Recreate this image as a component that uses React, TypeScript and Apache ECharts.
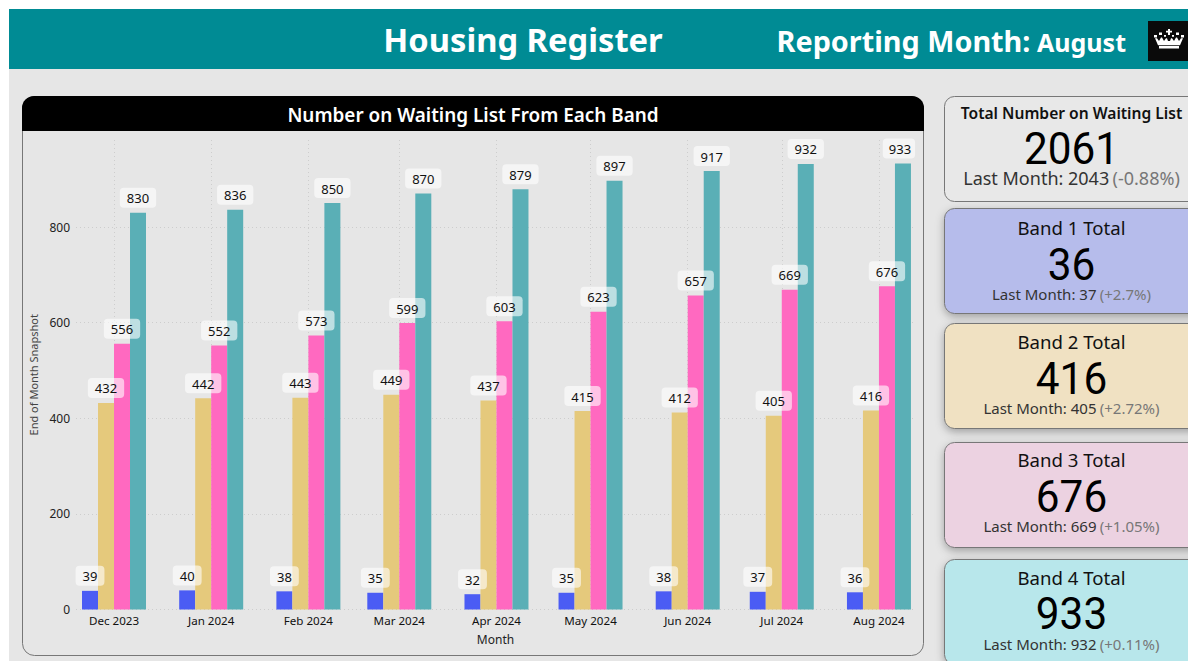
import React, { useEffect, useRef } from "react";
import * as echarts from "echarts";

const months = ["2023-12-01", "2024-01-01", "2024-02-01", "2024-03-01", "2024-04-01", "2024-05-01", "2024-06-01", "2024-07-01", "2024-08-01"];
const band1 = [39, 40, 38, 35, 32, 35, 38, 37, 36];
const band2 = [432, 442, 443, 449, 437, 415, 412, 405, 416];
const band3 = [556, 552, 573, 599, 603, 623, 657, 669, 676];
const band4 = [830, 836, 850, 870, 879, 897, 917, 932, 933];
const bandNames = ["Band 1", "Band 2", "Band 3", "Band 4"];
const bandColors = ["#4B5CF4", "#E5C97C", "#FF69C0", "#5AAFB6"];

const cardTitles = ["Total Number on Waiting List", "Band 1 Total", "Band 2 Total", "Band 3 Total", "Band 4 Total"];
const cardTotals = ["2061", "36", "416", "676", "933"];
const cardLast = ["Last Month: 2043", "Last Month: 37", "Last Month: 405", "Last Month: 669", "Last Month: 932"];
const cardChange = ["(-0.88%)", "(+2.7%)", "(+2.72%)", "(+1.05%)", "(+0.11%)"];
const cardFills = ["#E8E8E8", "#B6BCEB", "#F0E1C2", "#ECD2E1", "#B8E7EB"];
const cardTops = [96, 208, 323, 442, 559];
const titleYs = [112.5, 227, 341, 459, 577];
const numberYs = [149, 265, 379, 497, 614];
const lastYs = [178, 294, 408, 526, 644];

const monthNames = ["Jan", "Feb", "Mar", "Apr", "May", "Jun", "Jul", "Aug", "Sep", "Oct", "Nov", "Dec"];
const SANS = "'Noto Sans', 'Open Sans', sans-serif";
const NUM = "Roboto, sans-serif";

const crownPath =
  "M14 0h2v2h2v2h-2v3h-2v-3h-2v-2h2z" +
  "M0 7h3v3h-3z M5 4h3v3h-3z M10 7h2v2h-2z M18 7h2v2h-2z M22 4h3v3h-3z M27 7h3v3h-3z" +
  "M1 11h2l2 3l2-4h1l2 4l2-3h1l1 3h2l1-3h1l2 3l2-4h1l2 4l2-3h2l-3 8h-22z" +
  "M5 20h20v3h-20z";

let registered = false;

export default function App() {
  const ref = useRef<HTMLDivElement>(null);
  useEffect(() => {
    if (!ref.current) return;
    if (!registered) {
      echarts.graphic.registerShape("crownicon", echarts.graphic.extendPath(crownPath, {}) as any);
      registered = true;
    }
    const chart = echarts.init(ref.current, undefined, { renderer: "svg", width: 1188, height: 661 });

    const CX = 1071.5;
    const graphics: any[] = [
      { type: "rect", z: -5, silent: true, shape: { x: 9, y: 69, width: 1179, height: 592 }, style: { fill: "#E6E6E6" } },
      { type: "rect", z: -4, silent: true, shape: { x: 9, y: 9, width: 1179, height: 60 }, style: { fill: "#008B94" } },
      { type: "text", z: 5, silent: true, x: 523, y: 39, style: { text: "Housing Register", fill: "#fff", font: `700 32.7px ${SANS}`, align: "center", verticalAlign: "middle" } },
      { type: "text", z: 5, silent: true, x: 903.5, y: 40, style: { text: "Reporting Month:", fill: "#fff", font: `700 28.8px ${SANS}`, align: "center", verticalAlign: "middle" } },
      { type: "text", z: 5, silent: true, x: 1081.5, y: 42, style: { text: "August", fill: "#fff", font: `700 25px ${SANS}`, align: "center", verticalAlign: "middle" } },
      { type: "rect", z: -3, silent: true, shape: { x: 1148, y: 21, width: 40, height: 40 }, style: { fill: "#0A0A0A" } },
      { type: "crownicon", z: 5, silent: true, x: 1154, y: 29, scaleX: 1, scaleY: 0.85, style: { fill: "#fff" } },
      { type: "rect", z: -3, silent: true, shape: { x: 22.5, y: 96.5, width: 901, height: 559, r: 12 }, style: { fill: "#E6E6E6", stroke: "#777", lineWidth: 1 } },
      { type: "rect", z: -2, silent: true, shape: { x: 22, y: 96, width: 902, height: 35, r: [12, 12, 0, 0] }, style: { fill: "#000" } },
      { type: "text", z: 5, silent: true, x: 473, y: 115, style: { text: "Number on Waiting List From Each Band", fill: "#fff", font: `600 18.9px ${SANS}`, align: "center", verticalAlign: "middle" } },
    ];
    cardTitles.forEach((t, i) => {
      const first = i === 0;
      graphics.push(
        { type: "rect", z: -3, silent: true, shape: { x: 944.5, y: cardTops[i] + 0.5, width: 260, height: 105, r: 10 }, style: { fill: cardFills[i], stroke: "#777", lineWidth: 1, shadowBlur: first ? 0 : 8, shadowColor: "rgba(0,0,0,0.3)", shadowOffsetY: first ? 0 : 3 } },
        { type: "text", z: 5, silent: true, x: CX, y: titleYs[i], style: { text: t, fill: "#111", font: `${first ? "600 15.6px" : "400 18.6px"} ${SANS}`, align: "center", verticalAlign: "middle" } },
        { type: "text", z: 5, silent: true, x: CX, y: numberYs[i], scaleX: 0.94, style: { text: cardTotals[i], fill: "#000", font: `400 45px ${NUM}`, align: "center", verticalAlign: "middle" } },
        { type: "text", z: 5, silent: true, x: CX, y: lastYs[i], style: { text: `{a|${cardLast[i]}} {b|${cardChange[i]}}`, align: "center", verticalAlign: "middle", rich: { a: { fill: "#333", font: `400 ${first ? 18 : 15}px ${SANS}` }, b: { fill: "#777", font: `400 ${first ? 18 : 15}px ${SANS}` } } } }
      );
    });

    const seriesValues = [band1, band2, band3, band4];
    chart.setOption({
      animation: false,
      backgroundColor: "transparent",
      graphic: { elements: graphics },
      grid: { left: 76, right: 1188 - 915, top: 140, bottom: 661 - 609.5, containLabel: false },
      xAxis: {
        type: "time",
        min: new Date(2023, 10, 29, 2).getTime(),
        max: new Date(2024, 7, 2, 7).getTime(),
        name: "Month",
        nameLocation: "middle",
        nameGap: 24,
        nameTextStyle: { fontFamily: SANS, fontSize: 12, color: "#222" },
        axisLine: { show: false },
        axisTick: { show: false },
        splitLine: { show: true, showMinLine: false, showMaxLine: false, lineStyle: { type: [1, 3], color: "#CDCDCD", width: 1 } },
        axisLabel: {
          showMinLabel: false,
          showMaxLabel: false,
          margin: 5,
          color: "#111",
          fontFamily: SANS,
          fontSize: 11.6,
          hideOverlap: false,
          formatter: (v: number) => {
            const d = new Date(v);
            return `${monthNames[d.getMonth()]} ${d.getFullYear()}`;
          },
        },
      },
      yAxis: {
        type: "value",
        min: 0,
        max: 982,
        interval: 200,
        name: "End of Month Snapshot",
        nameLocation: "middle",
        nameGap: 32,
        nameTextStyle: { fontFamily: SANS, fontSize: 11, color: "#444" },
        axisLine: { show: false },
        axisTick: { show: false },
        splitLine: { show: true, showMaxLine: false, lineStyle: { type: [1, 3], color: "#CDCDCD", width: 1 } },
        axisLabel: { showMaxLabel: false, margin: 6, color: "#222", fontFamily: SANS, fontSize: 12 },
      },
      series: seriesValues.map((vals, s) => ({
        type: "bar",
        name: bandNames[s],
        barWidth: 16,
        barGap: "0%",
        itemStyle: { color: bandColors[s] },
        label: {
          show: true,
          position: "top",
          distance: 5,
          color: "#111",
          fontFamily: SANS,
          fontSize: 13,
          backgroundColor: "rgba(255,255,255,0.6)",
          borderRadius: 4,
          padding: [4, 7, 3, 7],
        },
        data: vals.map((v, i) => {
          const item: any = { value: [months[i], v] };
          if (s === 3 && i === months.length - 1) {
            item.label = { offset: [-4, 0], padding: [4, 4, 3, 6] };
          }
          return item;
        }),
      })),
    });
    return () => chart.dispose();
  }, []);
  return <div ref={ref} style={{ position: "absolute", left: 0, top: 0, width: 1188, height: 661, overflow: "hidden" }} />;
}
